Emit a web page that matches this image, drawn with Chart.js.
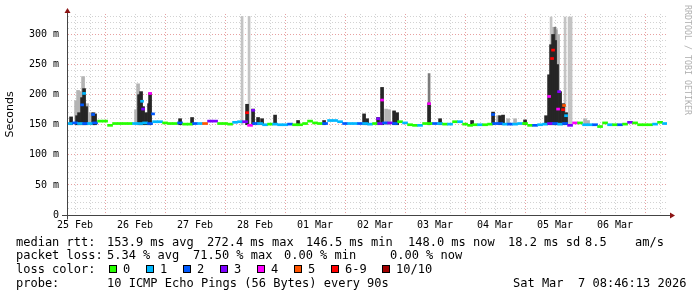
<!DOCTYPE html>
<html><head><meta charset="utf-8">
<script src="https://cdn.jsdelivr.net/npm/chart.js@4"></script>
<style>
html,body{margin:0;padding:0;background:#fff;}
#wrap{position:relative;width:697px;height:297px;overflow:hidden;background:#fff;}
#c{position:absolute;left:0;top:0;}
.t{position:absolute;font-family:"DejaVu Sans Mono",monospace;font-size:12px;line-height:14px;color:#000;white-space:pre;}
.box{position:absolute;width:6px;height:6px;border:1px solid #000;}
#rrd{position:absolute;font-family:"DejaVu Sans Mono",monospace;font-size:8.3px;line-height:9px;color:#b0b0b0;transform-origin:0 0;transform:rotate(90deg);left:692px;top:5px;white-space:pre;}
</style></head><body>
<div id="wrap">
<canvas id="c" width="697" height="297"></canvas>
<div id="rrd">RRDTOOL / TOBI OETIKER</div>
<div id="legend"></div>
</div>
<script>
// ---------- data ----------
const dayLabels = ['25 Feb','26 Feb','27 Feb','28 Feb','01 Mar','02 Mar','03 Mar','04 Mar','05 Mar','06 Mar'];
const yTickValues = [0, 50, 100, 150, 200, 250, 300];
const yTickLabels = ['0', '50 m', '100 m', '150 m', '200 m', '250 m', '300 m'];
const lossColors = ['#26ff00','#00b8ff','#0059ff','#7e00ff','#ff00ff','#ff5500','#ff0000','#a10000'];
const lossLabels = ['0','1','2','3','4','5','6-9','10/10'];

// median rtt (ms), 2-hour bins starting Feb 25 08:00
const medianStartHour = 8;
const medianValues = [152,152,153,152,152,152,153,156,156,149,
  152,152,152,152,152,152,153,152,155,155,
  153,152,152,153,151,151,152,152,152,156,
  156,152,152,151,154,155,155,149,152,152,
  150,151,151,150,150,151,150,150,152,156,
  153,152,152,157,157,155,152,152,152,152,
  152,151,152,152,153,153,152,155,153,150,
  149,149,152,152,152,152,151,151,155,155,
  151,149,150,150,150,151,152,152,151,151,
  151,152,152,149,149,150,151,152,152,151,
  152,149,153,153,150,150,150,147,153,150,
  150,150,151,154,153,150,150,150,151,154,152];
// loss class per bin (index into lossColors)
const medianLoss = [1,1,2,1,2,1,2,0,0,0,
  0,0,0,0,1,1,1,2,1,1,
  0,0,0,2,0,0,2,1,5,3,
  3,0,0,0,1,1,3,4,2,1,
  1,0,1,1,1,2,0,0,0,0,
  0,0,2,1,1,1,2,1,1,2,
  1,1,0,3,2,3,2,0,1,0,
  0,1,0,0,2,1,0,1,0,1,
  0,0,0,1,0,0,2,2,1,2,
  1,1,0,0,2,1,1,3,2,1,
  2,3,4,0,1,1,2,0,0,1,
  0,2,0,3,0,0,0,0,1,0,1];

// elevated medians during spikes
const spikeMedHours  = [14.8,15.6,19.2,38.8,39.2,42.0,43.2,80.8,83.2,133.2,134.8,153.6,179.2,201.6,202.8,203.2,205.2,205.6,207.2,207.6,208.4];
const spikeMedValues = [183,202,167,189,176,202,168,170,174,160,191,185,167,197,260,274,176,205,175,182,165];
const spikeMedLoss   = [2,1,2,1,3,4,2,6,3,3,4,4,2,4,6,6,4,3,6,5,1];

// smoke: dark (inner pings)
const darkHours = [10.4,12.8,13.6,14.8,15.6,16.4,19.2,20.0,37.6,38.4,39.2,40.4,41.6,42.0,54.0,58.8,80.8,83.2,85.2,86.8,92.0,101.2,111.6,127.6,128.8,133.2,134.8,139.6,140.8,153.6,158.0,170.8,179.2,182.0,183.2,192.0,200.4,201.6,202.4,203.2,204.0,204.8,206.0,207.2,208.4];
const darkTops  = [163,165,170,195,210,180,170,168,200,205,180,170,185,203,160,162,184,176,162,160,166,157,157,168,160,162,212,173,170,186,160,157,171,165,166,158,165,233,283,300,290,250,205,185,170];
// smoke: mid grey
const midHours = [153.6,204.0];
const midTops  = [235,312];
// smoke: light grey (outer pings)
const lightHours = [12.4,13.2,14.0,15.2,16.8,17.6,36.4,37.2,38.0,136.4,137.6,181.2,185.2,188.0,203.6,204.4,205.2,216.0,217.2];
const lightTops  = [190,207,205,230,185,170,175,218,195,176,175,165,160,160,312,308,300,160,157];
const thinHours = [78.8,81.6,202.4,208.0,209.6,210.4];
const thinTops  = [330,330,329,329,329,329];
const smokeBase = 150;

// ---------- chart ----------
const medHalf = 1.7;
const bar = (h, lo, hi) => ({x: h, y: [lo, hi]});
const medianData = medianValues.map((v, i) => bar(medianStartHour + 2 * i, v - medHalf, v + medHalf));
const spikeMedData = spikeMedHours.map((h, i) => bar(h, spikeMedValues[i] - medHalf, spikeMedValues[i] + medHalf));
const darkData = darkHours.map((h, i) => bar(h, smokeBase, darkTops[i]));
const midData = midHours.map((h, i) => bar(h, smokeBase, midTops[i]));
const lightData = lightHours.map((h, i) => bar(h, smokeBase, lightTops[i]));
const thinData = thinHours.map((h, i) => bar(h, smokeBase, thinTops[i]));

const MAJOR = '#e7a0a0', MINOR = '#d2d2d2', AXIS = '#444';
const arrowPlugin = {
  id: 'arrows',
  afterDraw(chart) {
    const {ctx, chartArea: a} = chart;
    const yb = Math.round(a.bottom) + 0.5, xl = Math.round(a.left) + 0.5;
    ctx.save();
    ctx.strokeStyle = AXIS; ctx.lineWidth = 1;
    ctx.beginPath();
    ctx.moveTo(62, yb); ctx.lineTo(a.right + 3, yb);
    ctx.moveTo(xl, yb + 4); ctx.lineTo(xl, a.top - 2);
    ctx.stroke();
    ctx.fillStyle = '#8c1414';
    ctx.beginPath();
    ctx.moveTo(a.right + 3, yb - 3); ctx.lineTo(a.right + 8, yb); ctx.lineTo(a.right + 3, yb + 3); ctx.closePath(); ctx.fill();
    ctx.beginPath();
    ctx.moveTo(xl - 3, a.top - 1); ctx.lineTo(xl, a.top - 6); ctx.lineTo(xl + 3, a.top - 1); ctx.closePath(); ctx.fill();
    ctx.restore();
  }
};

const common = {grouped: false, borderWidth: 0, borderSkipped: false};
new Chart(document.getElementById('c'), {
  type: 'bar',
  data: {
    datasets: [
      Object.assign({label: 'median', data: medianData, backgroundColor: medianLoss.map(l => lossColors[l]), barThickness: 5, order: 0}, common),
      Object.assign({label: 'median spikes', data: spikeMedData, backgroundColor: spikeMedLoss.map(l => lossColors[l]), barThickness: 3, order: 0}, common),
      Object.assign({label: 'smoke dark', data: darkData, backgroundColor: '#262626', barThickness: 3, order: 1}, common),
      Object.assign({label: 'smoke mid', data: midData, backgroundColor: '#7a7a7a', barThickness: 2, order: 2}, common),
      Object.assign({label: 'smoke light', data: lightData, backgroundColor: '#b4b4b4', barThickness: 3, order: 3}, common),
      Object.assign({label: 'smoke thin', data: thinData, backgroundColor: '#c4c4c4', barThickness: 2, order: 3}, common)
    ]
  },
  options: {
    responsive: false, animation: false, devicePixelRatio: 1, events: [],
    layout: {padding: {left: 0, top: 12, right: 30, bottom: 62}},
    plugins: {legend: {display: false}, tooltip: {enabled: false}},
    scales: {
      x: {
        type: 'linear', min: 8.77, max: 248.77, offset: false,
        afterBuildTicks: s => { const t = []; for (let h = 12; h < 248; h += 6) t.push({value: h}); s.ticks = t; },
        afterFit: s => { s.height = 20; },
        ticks: {
          autoSkip: false, maxRotation: 0, minRotation: 0, padding: 4, color: '#000',
          font: {family: 'DejaVu Sans Mono', size: 10},
          callback: v => (v % 24 === 12 ? dayLabels[(v - 12) / 24] : '')
        },
        grid: {offset: false, drawTicks: false, lineWidth: 1, color: c => (c.tick && c.tick.value % 24 === 0 ? MAJOR : MINOR)},
        border: {display: true, color: AXIS, width: 1, dash: [1, 2]}
      },
      y: {
        min: 0, max: 334,
        afterBuildTicks: s => { const t = []; for (let v = 0; v <= 330; v += 10) t.push({value: v}); s.ticks = t; },
        afterFit: s => { s.width = 67; },
        ticks: {
          autoSkip: false, padding: 8, color: '#000',
          font: {family: 'DejaVu Sans Mono', size: 10},
          callback: v => { const i = yTickValues.indexOf(v); return i >= 0 ? yTickLabels[i] : ''; }
        },
        grid: {drawTicks: false, lineWidth: 1, color: c => (c.tick && c.tick.value % 50 === 0 ? MAJOR : MINOR)},
        border: {display: true, color: AXIS, width: 1, dash: [1, 2]},
        title: {display: true, text: 'Seconds', color: '#000', font: {family: 'DejaVu Sans', size: 11}, padding: {top: 4, bottom: 0}}
      }
    }
  },
  plugins: [arrowPlugin]
});

// ---------- legend text ----------
const rttStats = ['153.9 ms avg', '272.4 ms max', '146.5 ms min', '148.0 ms now', '18.2 ms sd', '8.5', 'am/s'];
const lossStats = ['5.34 % avg', '71.50 % max', '0.00 % min', '0.00 % now'];
const probeText = '10 ICMP Echo Pings (56 Bytes) every 90s';
const stampText = 'Sat Mar  7 08:46:13 2026';
const L = document.getElementById('legend');
function put(x, y, text) { const d = document.createElement('div'); d.className = 't'; d.style.left = x + 'px'; d.style.top = y + 'px'; d.textContent = text; L.appendChild(d); }
const row1 = 235, row2 = 248, row3 = 262, row4 = 276;
put(16, row1, 'median rtt:');
[107, 207, 306, 408, 508, 585, 635].forEach((x, i) => put(x, row1, rttStats[i]));
put(16, row2, 'packet loss:');
[107, 193, 284, 390].forEach((x, i) => put(x, row2, lossStats[i]));
put(16, row3, 'loss color:');
[109, 146, 183, 220, 257, 294, 331, 382].forEach((x, i) => {
  const b = document.createElement('div'); b.className = 'box'; b.style.left = x + 'px'; b.style.top = '265px'; b.style.background = lossColors[i]; L.appendChild(b);
  put(x + 14, row3, lossLabels[i]);
});
put(16, row4, 'probe:');
put(107, row4, probeText);
put(513, row4, stampText);
</script>
</body></html>
